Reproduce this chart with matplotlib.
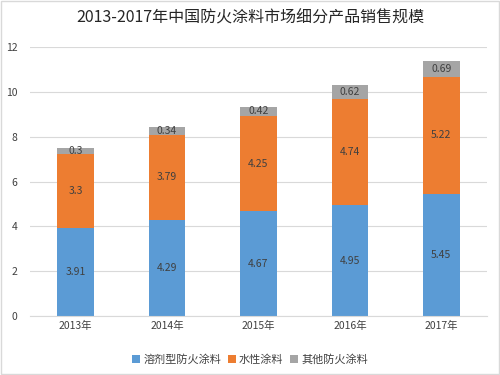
import matplotlib
matplotlib.use("Agg")
import matplotlib.pyplot as plt
import numpy as np

plt.rcParams['font.family'] = ['Noto Sans CJK SC', 'DejaVu Sans']

years = ["2013年", "2014年", "2015年", "2016年", "2017年"]
solvent = [3.91, 4.29, 4.67, 4.95, 5.45]
water = [3.3, 3.79, 4.25, 4.74, 5.22]
other = [0.3, 0.34, 0.42, 0.62, 0.69]
series_names = ["溶剂型防火涂料", "水性涂料", "其他防火涂料"]
COLORS = ["#5B9BD5", "#ED7D31", "#A5A5A5"]
TXT = "#404040"

fig = plt.figure(figsize=(5, 3.75), dpi=100)
ax = fig.add_axes([0.06, 0.157, 0.914, 0.718])

x = np.arange(len(years))
bottom = np.zeros(len(years))
for vals, name, col in zip([solvent, water, other], series_names, COLORS):
    bars = ax.bar(x, vals, 0.4, bottom=bottom, color=col, label=name, zorder=2)
    for b, v, b0 in zip(bars, vals, bottom):
        ax.text(b.get_x() + b.get_width() / 2, b0 + v / 2, f"{v:g}",
                ha="center", va="center", fontsize=7.5, color=TXT, zorder=3)
    bottom = bottom + np.array(vals)

ax.set_ylim(0, 12)
ax.set_xlim(-0.5, 4.5)
ax.set_yticks(range(0, 13, 2))
ax.set_xticks(x)
ax.set_xticklabels(years)
ax.tick_params(axis="both", length=0, labelsize=7.5, colors=TXT)
ax.tick_params(axis="y", pad=9)
ax.grid(axis="y", color="#D9D9D9", lw=0.8, zorder=0)
for s in ["top", "right", "left"]:
    ax.spines[s].set_visible(False)
ax.spines["bottom"].set_color("#D9D9D9")

fig.legend(loc="lower center", bbox_to_anchor=(0.5, 0.0), ncol=3, frameon=False,
           fontsize=8, handlelength=0.7, handleheight=0.7, handletextpad=0.3,
           columnspacing=0.6, labelcolor=TXT)

fig.suptitle("2013-2017年中国防火涂料市场细分产品销售规模", fontsize=11.5,
             color="#262626", y=0.975)

fig.patches.append(plt.Rectangle((0.002, 0.002), 0.996, 0.996, transform=fig.transFigure,
                                 fill=False, edgecolor="#D9D9D9", lw=1))

fig.savefig("out.png", dpi=100)
